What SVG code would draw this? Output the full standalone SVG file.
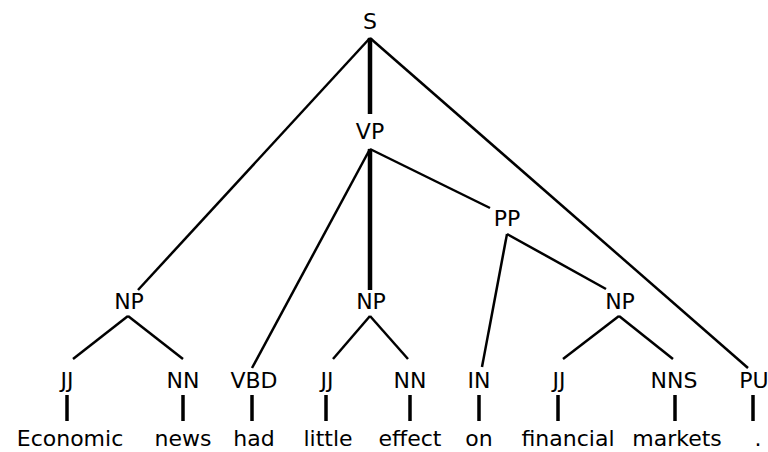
<svg xmlns="http://www.w3.org/2000/svg" width="768" height="452" viewBox="0 0 768 452">
<style>
text{font-family:"DejaVu Sans",sans-serif;font-size:22px;fill:#000;text-anchor:middle}
.e{stroke:#000;stroke-width:2.5;fill:none}
.t{stroke:#000;stroke-width:4.5;fill:none}
.l{stroke:#000;stroke-width:3.5;fill:none}
</style>
<rect width="768" height="452" fill="#fff"/>
<g id="connectors">
<line class="t" x1="370" y1="38" x2="370" y2="114"/>
<line class="e" x1="370" y1="38" x2="138" y2="290"/>
<line class="e" x1="370" y1="38" x2="748" y2="368"/>
<line class="e" x1="370" y1="149" x2="252" y2="368"/>
<line class="t" x1="370" y1="149" x2="370" y2="290"/>
<line class="e" x1="370" y1="149" x2="490" y2="208"/>
<line class="e" x1="507" y1="234" x2="482" y2="367"/>
<line class="e" x1="507" y1="234" x2="606" y2="289"/>
<line class="e" x1="128" y1="316" x2="73" y2="359"/>
<line class="e" x1="128" y1="316" x2="183" y2="359"/>
<line class="e" x1="370" y1="316" x2="333" y2="359"/>
<line class="e" x1="370" y1="316" x2="408" y2="359"/>
<line class="e" x1="619" y1="316" x2="563" y2="359"/>
<line class="e" x1="619" y1="316" x2="673" y2="359"/>
<line class="l" x1="67" y1="395" x2="67" y2="421"/>
<line class="l" x1="183" y1="395" x2="183" y2="421"/>
<line class="l" x1="252" y1="395" x2="252" y2="421"/>
<line class="l" x1="326" y1="395" x2="326" y2="421"/>
<line class="l" x1="410" y1="395" x2="410" y2="421"/>
<line class="l" x1="479" y1="395" x2="479" y2="421"/>
<line class="l" x1="558" y1="395" x2="558" y2="421"/>
<line class="l" x1="675" y1="395" x2="675" y2="421"/>
<line class="l" x1="753" y1="395" x2="753" y2="421"/>
</g>
<g id="S"><text x="370" y="29">S</text></g>
<g id="VP"><text x="370" y="139">VP</text></g>
<g id="PP"><text x="507" y="226">PP</text></g>
<g id="NP1"><text x="129" y="309">NP</text></g>
<g id="NP2"><text x="371" y="309">NP</text></g>
<g id="NP3"><text x="620" y="309">NP</text></g>
<g id="JJ1"><text x="67" y="388">JJ</text></g>
<g id="NN1"><text x="183" y="388">NN</text></g>
<g id="VBD"><text x="254" y="388">VBD</text></g>
<g id="JJ2"><text x="327" y="388">JJ</text></g>
<g id="NN2"><text x="410" y="388">NN</text></g>
<g id="IN"><text x="479" y="388">IN</text></g>
<g id="JJ3"><text x="559" y="388">JJ</text></g>
<g id="NNS"><text x="674" y="388">NNS</text></g>
<g id="PU"><text x="754" y="388">PU</text></g>
<g id="w1"><text x="70" y="446">Economic</text></g>
<g id="w2"><text x="183" y="446">news</text></g>
<g id="w3"><text x="254" y="446">had</text></g>
<g id="w4"><text x="328" y="446">little</text></g>
<g id="w5"><text x="410" y="446">effect</text></g>
<g id="w6"><text x="479" y="446">on</text></g>
<g id="w7"><text x="568" y="446">financial</text></g>
<g id="w8"><text x="677" y="446">markets</text></g>
<g id="w9"><text x="758" y="446">.</text></g>
</svg>
